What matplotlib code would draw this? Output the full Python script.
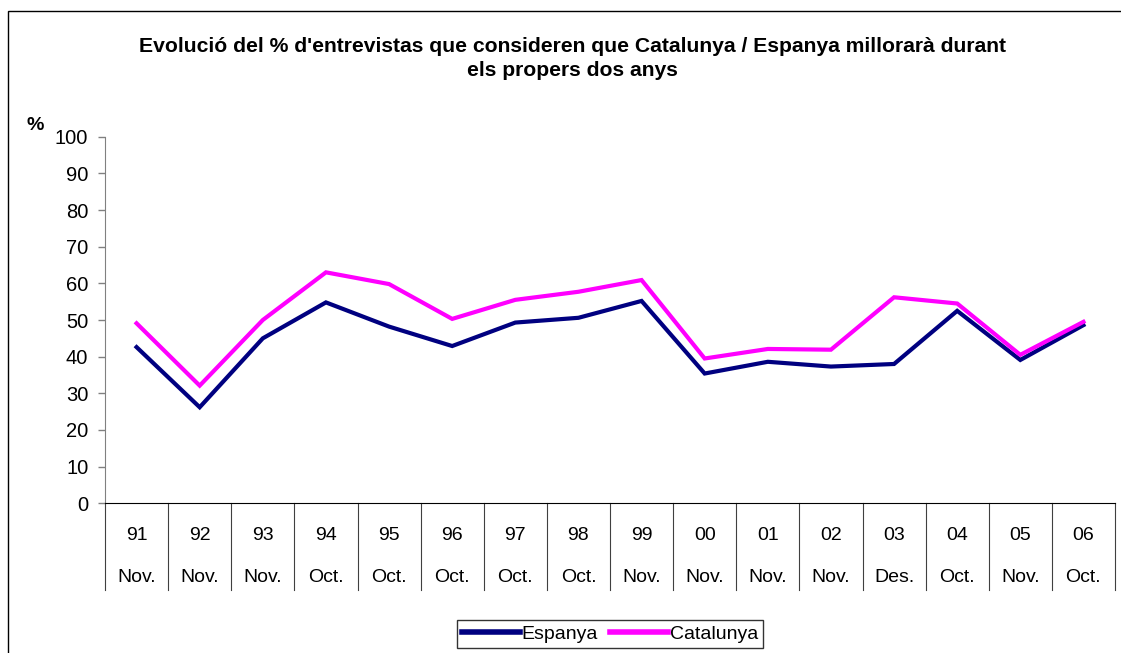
import matplotlib
matplotlib.use("Agg")
import matplotlib.pyplot as plt
from matplotlib.patches import Rectangle
import matplotlib.transforms as mtransforms

plt.rcParams['font.family'] = ['Liberation Sans', 'DejaVu Sans']

years = ["91", "92", "93", "94", "95", "96", "97", "98", "99", "00", "01", "02", "03", "04", "05", "06"]
months = ["Nov.", "Nov.", "Nov.", "Oct.", "Oct.", "Oct.", "Oct.", "Oct.", "Nov.", "Nov.", "Nov.", "Nov.", "Des.", "Oct.", "Nov.", "Oct."]
espanya = [42.6, 26.2, 45.0, 54.8, 48.2, 42.9, 49.3, 50.6, 55.2, 35.4, 38.6, 37.3, 38.0, 52.5, 39.1, 48.6]
catalunya = [49.1, 32.1, 50.0, 63.0, 59.8, 50.3, 55.5, 57.7, 60.9, 39.5, 42.1, 41.9, 56.2, 54.5, 40.5, 49.5]
yticks = list(range(0, 101, 10))

W, H = 1121, 653
fig = plt.figure(figsize=(W / 100, H / 100), dpi=100)

# outer border of the chart area
fig.patches.append(Rectangle((8 / W, -0.1), 1.2, 1 - 11 / H + 0.1, transform=fig.transFigure,
                             fill=False, edgecolor='black', linewidth=1.0))

ax_l, ax_r = 105 / W, 1115 / W
ax_b, ax_t = 1 - 503.3 / H, 1 - 136.7 / H
ax = fig.add_axes([ax_l, ax_b, ax_r - ax_l, ax_t - ax_b])

x = list(range(len(years)))
ax.plot(x, espanya, color='#000080', linewidth=3.0, label='Espanya', solid_joinstyle='miter')
ax.plot(x, catalunya, color='#FF00FF', linewidth=3.0, label='Catalunya', solid_joinstyle='miter')

ax.set_xlim(-0.5, len(years) - 0.5)
ax.set_ylim(0, 100)
ax.set_yticks(yticks)
ax.set_yticklabels([str(v) for v in yticks], fontsize=14.5)
ax.tick_params(axis='y', direction='out', length=5, width=1, color='#808080', pad=7)
ax.set_xticks([])

for s in ['top', 'right']:
    ax.spines[s].set_visible(False)
ax.spines['left'].set_color('#808080')
ax.spines['bottom'].set_color('black')

# multi-level category axis
trans = mtransforms.blended_transform_factory(ax.transData, ax.transAxes)
axh = 503.3 - 136.7
sep_bottom = -(590 - 503.3) / axh
for i in range(len(years) + 1):
    ax.plot([i - 0.5, i - 0.5], [0, sep_bottom], transform=trans, color='#404040',
            linewidth=0.8, clip_on=False)
row1 = -(535 - 503.3) / axh
row2 = -(577 - 503.3) / axh
for i, (yy, mm) in enumerate(zip(years, months)):
    ax.text(i, row1, yy, transform=trans, ha='center', va='center', fontsize=14)
    ax.text(i, row2, mm, transform=trans, ha='center', va='center', fontsize=14)

fig.text(572 / W, 1 - 58.5 / H,
         "Evolució del % d'entrevistas que consideren que Catalunya / Espanya millorarà durant\nels propers dos anys",
         ha='center', va='center', fontsize=15.2, fontweight='bold', linespacing=1.3)
fig.text(35 / W, 1 - 125 / H, "%", ha='center', va='center', fontsize=14, fontweight='bold')

leg = fig.legend(loc='center', bbox_to_anchor=(610 / W, 1 - 634 / H), ncol=2, fontsize=14,
                 frameon=True, fancybox=False, edgecolor='black', handlelength=3.0,
                 handletextpad=0.1, columnspacing=0.6, borderpad=0.25, borderaxespad=0)
leg.get_frame().set_linewidth(1.0)
for line in leg.get_lines():
    line.set_linewidth(4.0)

fig.savefig("out.png", dpi=100)
